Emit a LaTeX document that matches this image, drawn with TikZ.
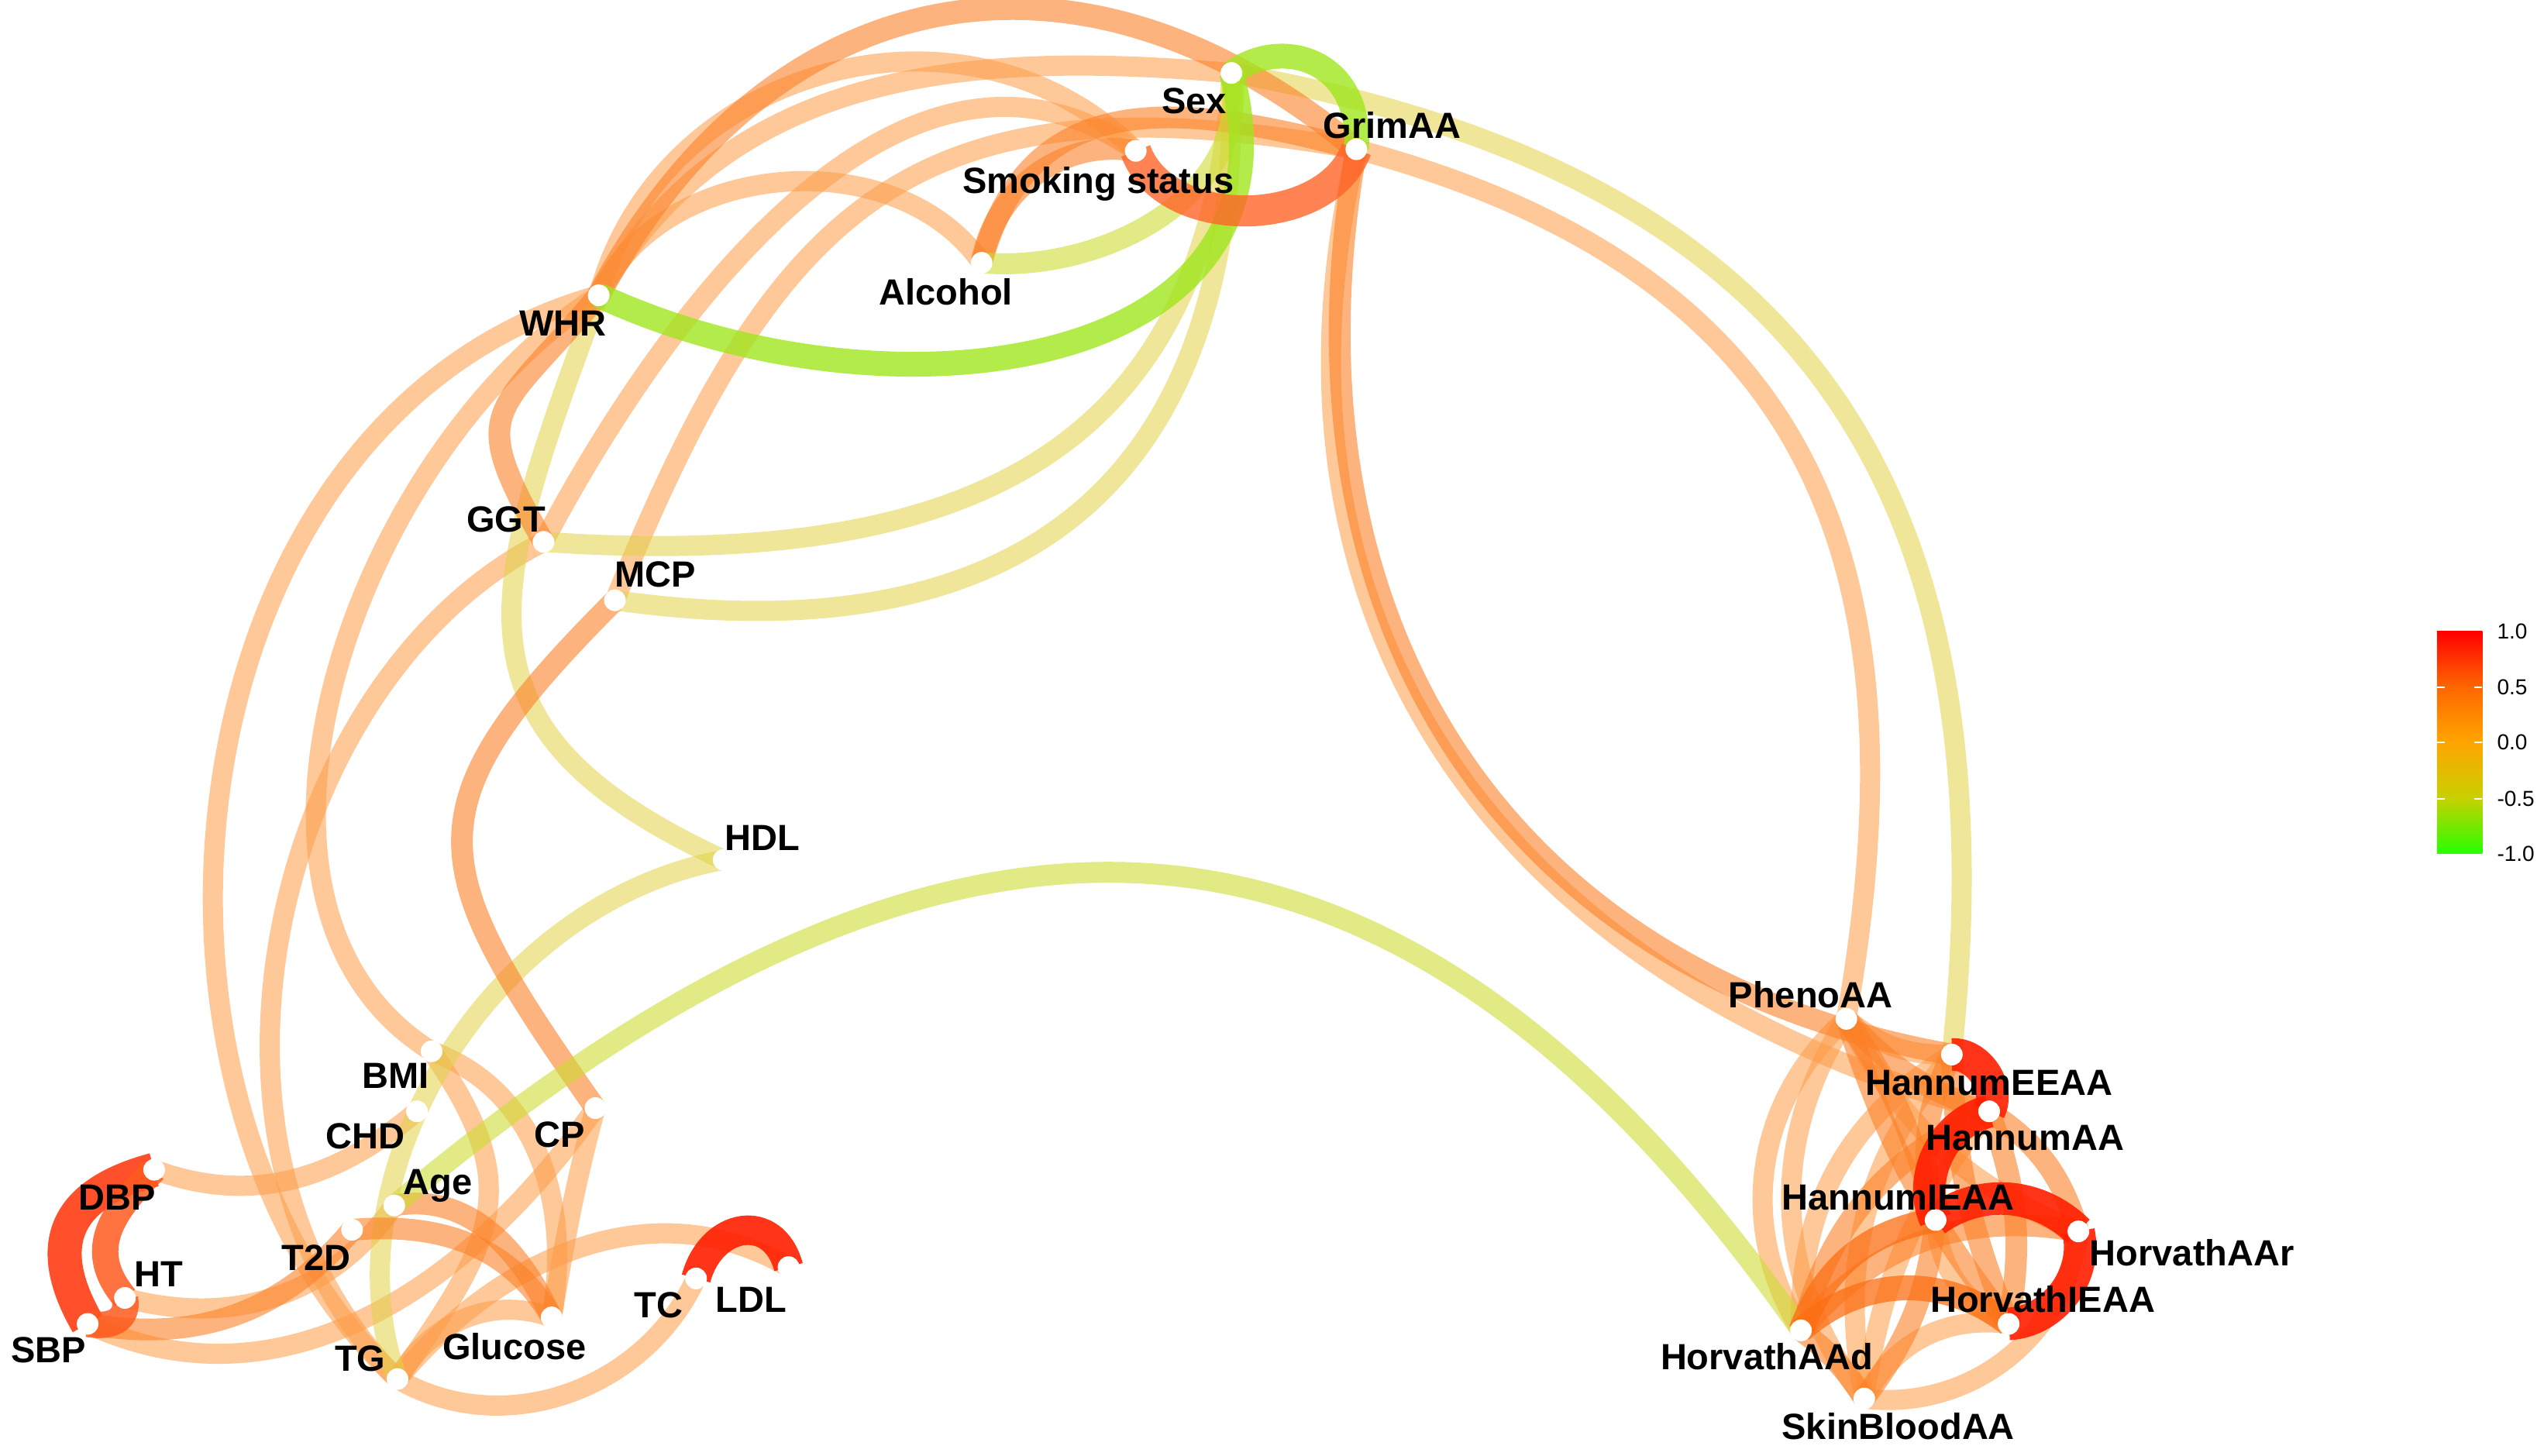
\documentclass[tikz,border=0pt]{standalone}
\usepackage{fontspec}
\setmainfont{Liberation Sans}
\definecolor{cLO}{RGB}{253,155,70}
\definecolor{cMO}{RGB}{252,128,38}
\definecolor{cDO}{RGB}{252,110,20}
\definecolor{cSM}{RGB}{255,100,40}
\definecolor{cRD}{RGB}{255,30,0}
\definecolor{cRDb}{RGB}{255,60,20}
\definecolor{cRDc}{RGB}{255,90,30}
\definecolor{cYL}{RGB}{225,210,70}
\definecolor{cYG}{RGB}{205,220,50}
\definecolor{cGR}{RGB}{160,230,30}
\definecolor{lgA}{RGB}{40,255,0}
\definecolor{lgB}{RGB}{200,208,0}
\definecolor{lgC}{RGB}{255,165,0}
\definecolor{lgD}{RGB}{255,102,0}
\definecolor{lgE}{RGB}{255,0,0}
\begin{document}
\begin{tikzpicture}[x=2.09375pt,y=2.09375pt,
  ebase/.style={line width=26pt},
  elo/.style={ebase, draw=cLO, draw opacity=0.55},
  emo/.style={ebase, line width=28pt, draw=cMO, draw opacity=0.6},
  edo/.style={ebase, line width=32pt, draw=cDO, draw opacity=0.75},
  esm/.style={ebase, line width=40pt, draw=cSM, draw opacity=0.8},
  erd/.style={ebase, line width=42pt, draw=cRD, draw opacity=0.9},
  erdb/.style={ebase, line width=44pt, draw=cRDb, draw opacity=0.9},
  erdc/.style={ebase, line width=34pt, draw=cRDc, draw opacity=0.85},
  eyl/.style={ebase, draw=cYL, draw opacity=0.55},
  eyg/.style={ebase, line width=27pt, draw=cYG, draw opacity=0.6},
  egr/.style={ebase, line width=32pt, draw=cGR, draw opacity=0.8},
  dot/.style={circle, fill=white, draw=none, inner sep=0pt, minimum size=28pt},
  lab/.style={font=\fontsize{47}{50}\selectfont\bfseries, inner sep=0pt, anchor=base, yshift=-16.8pt, text=black},
  leg/.style={font=\fontsize{28}{30}\selectfont, inner sep=0pt, anchor=base west, yshift=-10pt, text=black}]
\useasboundingbox (0,0) rectangle (1568,897);
% node positions
\coordinate (sex) at (759,852);
\coordinate (grim) at (836,805);
\coordinate (smk) at (700,804);
\coordinate (alc) at (605,735);
\coordinate (whr) at (369,715);
\coordinate (ggt) at (335,563);
\coordinate (mcp) at (379,527);
\coordinate (hdl) at (446,367);
\coordinate (bmi) at (266,249);
\coordinate (chd) at (257,212);
\coordinate (cp) at (367,214);
\coordinate (age) at (243,154);
\coordinate (dbp) at (95,176);
\coordinate (ht) at (77,97);
\coordinate (t2d) at (217,139);
\coordinate (sbp) at (54,81);
\coordinate (tg) at (245,47);
\coordinate (glu) at (340,85);
\coordinate (tc) at (429,109);
\coordinate (ldl) at (486,116);
\coordinate (pheno) at (1138,269);
\coordinate (heeaa) at (1203,247);
\coordinate (haa) at (1226,212);
\coordinate (hieaa) at (1193,145);
\coordinate (haar) at (1281,138);
\coordinate (hvieaa) at (1238,81);
\coordinate (haad) at (1110,77);
\coordinate (skin) at (1149,35);
% ---- light orange edges
\draw[elo] (whr) to[out=75,in=135,looseness=1.1] (smk);
\draw[elo] (whr) to[out=65,in=125] (alc);
\draw[elo] (whr) .. controls (450,855) and (598,866) .. (sex);
\draw[elo] (ggt) .. controls (415,714) and (560,902) .. (smk);
\draw[elo] (mcp) .. controls (481,779) and (568,852) .. (grim);
\draw[elo] (grim) .. controls (1115,730) and (1188,554) .. (pheno);
\draw[elo] (grim) .. controls (767,507) and (931,291) .. (haa);
\draw[elo] (whr) .. controls (100,640) and (60,220) .. (tg);
\draw[elo] (ggt) .. controls (170,480) and (100,190) .. (tg);
\draw[elo] (whr) .. controls (220,620) and (120,340) .. (bmi);
\draw[elo] (dbp) to[out=-20,in=-140] (chd);
\draw[elo] (ht) to[out=-15,in=-125] (age);
\draw[elo] (sbp) to[out=-25,in=-125] (cp);
\draw[elo] (bmi) to[out=-55,in=55,looseness=1.3] (tg);
\draw[elo] (bmi) to[out=-20,in=80] (glu);
\draw[elo] (cp) to[out=-105,in=80] (glu);
\draw[elo] (tg) to[out=-30,in=-115] (tc);
\draw[elo] (tg) to[out=50,in=150] (ldl);
\draw[elo] (glu) to[out=160,in=60] (tg);
\draw[elo] (pheno) to[bend right=20] (heeaa);
\draw[elo] (pheno) to[bend right=20] (haar);
\draw[elo] (pheno) to[bend right=40] (haad);
\draw[elo] (pheno) to[bend right=35] (skin);
\draw[elo] (heeaa) to[bend right=30] (haad);
\draw[elo] (heeaa) to[bend right=25] (skin);
\draw[elo] (haa) to[bend right=15] (skin);
\draw[elo] (hieaa) to[bend right=30] (hvieaa);
\draw[elo] (haar) to[bend left=45] (skin);
\draw[elo] (hvieaa) to[bend right=35] (skin);
% ---- yellow edges
\draw[eyl] (sex) .. controls (745,620) and (600,545) .. (ggt);
\draw[eyl] (sex) .. controls (765,610) and (640,490) .. (mcp);
\draw[eyl] (sex) .. controls (1110,791) and (1240,598) .. (heeaa);
\draw[eyl] (whr) .. controls (302,532) and (269,449) .. (hdl);
\draw[eyl] (hdl) .. controls (300,340) and (200,170) .. (tg);
% ---- medium orange edges
\draw[emo, line width=30pt] (whr) .. controls (474,912) and (665,948) .. (grim);
\draw[emo] (alc) to[out=80,in=170] (smk);
\draw[emo] (alc) to[out=75,in=165,looseness=1.2] (grim);
\draw[emo] (grim) .. controls (786,522) and (920,297) .. (heeaa);
\draw[emo] (whr) to[out=-130,in=120,looseness=1.6] (ggt);
\draw[emo] (mcp) to[out=-135,in=125,looseness=1.5] (cp);
\draw[emo] (sbp) to[out=-10,in=-130] (t2d);
\draw[emo] (t2d) to[out=5,in=120] (glu);
\draw[emo] (age) to[out=10,in=115] (glu);
\draw[emo] (pheno) to[bend right=15] (haa);
\draw[emo] (pheno) to[bend left=10] (hieaa);
\draw[emo] (pheno) to[bend right=10] (hvieaa);
\draw[emo] (heeaa) to[bend right=20] (hieaa);
\draw[emo] (heeaa) to[bend right=10] (hvieaa);
\draw[emo] (haa) to[bend left=20] (haar);
\draw[emo] (haa) to[bend left=15] (hvieaa);
\draw[emo] (haa) to[bend right=25] (haad);
\draw[emo] (hieaa) to[bend left=15] (skin);
\draw[emo] (haar) to[bend right=30] (haad);
\draw[emo] (haad) to[bend left=10] (skin);
% ---- yellow-green and green edges
\draw[eyg] (alc) to[out=-5,in=-80] (sex);
\draw[eyg] (age) .. controls (582,439) and (856,440) .. (haad);
\draw[egr] (whr) to[out=-25,in=-75,looseness=1.2] (sex);
\draw[egr] (sex) .. controls (790,875) and (840,860) .. (grim);
% ---- strong edges
\draw[esm] (smk) to[out=-70,in=-110] (grim);
\draw[edo] (hieaa) to[bend right=30] (haad);
\draw[edo] (hvieaa) to[bend right=40] (haad);
\draw[erdb] (dbp) to[out=-165,in=120,looseness=1.4] (sbp);
\draw[erdc] (dbp) to[out=-135,in=130,looseness=1.2] (ht);
\draw[erdc] (ht) to[out=-80,in=-10,looseness=1.3] (sbp);
\draw[erd, line width=38pt] (tc) to[out=75,in=105,looseness=1.6] (ldl);
\draw[erd] (heeaa) to[bend left=60] (haa);
\draw[erd] (haa) to[bend right=50] (hieaa);
\draw[erd] (hieaa) to[bend left=40] (haar);
\draw[erd] (haar) to[bend left=50] (hvieaa);
% ---- node dots
\foreach \n in {sex,grim,smk,alc,whr,ggt,mcp,hdl,bmi,chd,cp,age,dbp,ht,t2d,sbp,tg,glu,tc,ldl,pheno,heeaa,haa,hieaa,haar,hvieaa,haad,skin}
  \node[dot] (\n-d) at (\n) {};
% ---- labels
\node[lab] (sex-l) at (736,835) {Sex};
\node[lab] (grim-l) at (858,820) {GrimAA};
\node[lab] (smk-l) at (677,786) {Smoking status};
\node[lab] (alc-l) at (583,717) {Alcohol};
\node[lab] (whr-l) at (347,698) {WHR};
\node[lab] (ggt-l) at (312,577) {GGT};
\node[lab] (mcp-l) at (404,543) {MCP};
\node[lab] (hdl-l) at (470,381) {HDL};
\node[lab] (bmi-l) at (244,234) {BMI};
\node[lab] (chd-l) at (225,197) {CHD};
\node[lab] (cp-l) at (345,198) {CP};
\node[lab] (age-l) at (270,169) {Age};
\node[lab] (dbp-l) at (72,159) {DBP};
\node[lab] (ht-l) at (98,112) {HT};
\node[lab] (t2d-l) at (195,122) {T2D};
\node[lab] (sbp-l) at (30,65) {SBP};
\node[lab] (tg-l) at (222,60) {TG};
\node[lab] (glu-l) at (317,67) {Glucose};
\node[lab] (tc-l) at (406,93) {TC};
\node[lab] (ldl-l) at (463,96) {LDL};
\node[lab] (pheno-l) at (1116,284) {PhenoAA};
\node[lab] (heeaa-l) at (1226,230) {HannumEEAA};
\node[lab] (haa-l) at (1248,196) {HannumAA};
\node[lab] (hieaa-l) at (1170,159) {HannumIEAA};
\node[lab] (haar-l) at (1351,125) {HorvathAAr};
\node[lab] (hvieaa-l) at (1259,96) {HorvathIEAA};
\node[lab] (haad-l) at (1089,61) {HorvathAAd};
\node[lab] (skin-l) at (1170,18) {SkinBloodAA};
% ---- legend
\shade[bottom color=lgA, top color=lgC, middle color=lgB] (1502,371) rectangle (1530,439.5);
\shade[bottom color=lgC, top color=lgE, middle color=lgD] (1502,439.5) rectangle (1530,508);
\foreach \yy in {404.6,439.5,473.4}{
  \draw[white, line width=1.5pt] (1502,\yy) -- (1507,\yy) (1525,\yy) -- (1530,\yy);
}
\node[leg] (leg1) at (1539,508) {1.0};
\node[leg] (leg2) at (1539,473.4) {0.5};
\node[leg] (leg3) at (1539,439.5) {0.0};
\node[leg] (leg4) at (1539,404.6) {-0.5};
\node[leg] (leg5) at (1539,371) {-1.0};
\end{tikzpicture}
\end{document}
